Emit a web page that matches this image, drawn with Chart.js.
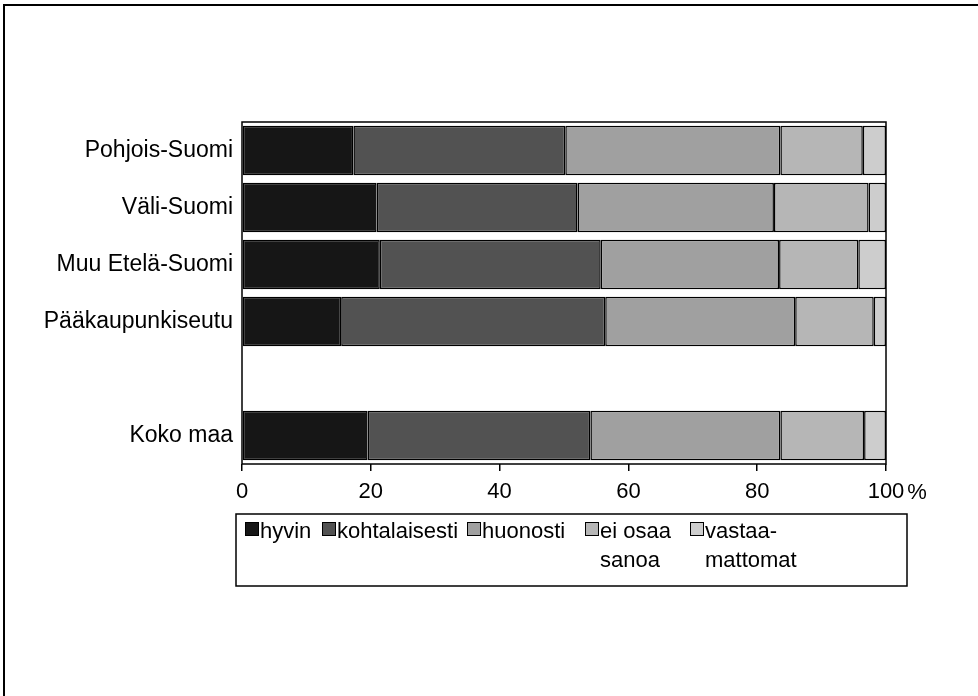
<!DOCTYPE html>
<html>
<head>
<meta charset="utf-8">
<script src="https://cdn.jsdelivr.net/npm/chart.js@4"></script>
<style>
  html, body { margin: 0; padding: 0; background: #fff; }
  #wrap { width: 978px; height: 696px; position: relative; }
</style>
</head>
<body>
<div id="wrap"><canvas id="regionChart" width="978" height="696"></canvas></div>
<script>
// regions (empty slot separates the whole country bar)
const regions = ['Pohjois-Suomi', 'Väli-Suomi', 'Muu Etelä-Suomi', 'Pääkaupunkiseutu', '', 'Koko maa'];

// shares in %, one array per answer
const hyvin          = [17.3, 20.9, 21.4, 15.4, null, 19.5];
const kohtalaisesti  = [32.9, 31.2, 34.3, 41.0, null, 34.6];
const huonosti       = [33.4, 30.5, 27.7, 29.5, null, 29.5];
const eiOsaaSanoa    = [12.8, 14.7, 12.3, 12.2, null, 13.0];
const vastaamattomat = [3.6, 2.7, 4.3, 1.9, null, 3.4];

const seriesNames = ['hyvin', 'kohtalaisesti', 'huonosti', 'ei osaa sanoa', 'vastaamattomat'];
const legendLines = [['hyvin'], ['kohtalaisesti'], ['huonosti'], ['ei osaa', 'sanoa'], ['vastaa-', 'mattomat']];
const xTicks = [0, 20, 40, 60, 80, 100];

const fills = ['#161616', '#525252', '#a0a0a0', '#b6b6b6', '#cdcdcd'];
const FONT = '"Liberation Sans", Arial, Helvetica, sans-serif';
const legendX = [245, 322, 467, 585, 690]; // swatch left edges in the legend box

const seriesData = [hyvin, kohtalaisesti, huonosti, eiOsaaSanoa, vastaamattomat];

// frame, plot box, legend and the % sign
const decorations = {
  id: 'decorations',
  afterDraw(chart) {
    const ctx = chart.ctx;
    const a = chart.chartArea;
    ctx.save();
    ctx.strokeStyle = '#000';

    // outer frame (left and top only, like the scan)
    ctx.lineWidth = 2;
    ctx.beginPath();
    ctx.moveTo(4, 696);
    ctx.lineTo(4, 5);
    ctx.lineTo(978, 5);
    ctx.stroke();

    // plot box
    ctx.lineWidth = 1.5;
    ctx.strokeRect(a.left, a.top, a.right - a.left, a.bottom - a.top);

    // % after the last tick
    const xs = chart.scales.x;
    ctx.fillStyle = '#000';
    ctx.font = '22px ' + FONT;
    ctx.textBaseline = 'middle';
    ctx.textAlign = 'left';
    const w100 = ctx.measureText('100').width;
    ctx.fillText('%', xs.getPixelForValue(100) + w100 / 2 + 3, 493);

    // legend box
    const box = { x: 236, y: 514, w: 671, h: 72 };
    ctx.lineWidth = 1.5;
    ctx.strokeRect(box.x, box.y, box.w, box.h);

    const sw = 14;
    ctx.font = '22px ' + FONT;
    chart.data.datasets.forEach((ds, i) => {
      const x = legendX[i];
      ctx.fillStyle = ds.backgroundColor;
      ctx.fillRect(x, 522, sw, sw);
      ctx.lineWidth = 1;
      ctx.strokeRect(x + 0.5, 522.5, sw - 1, sw - 1);
      ctx.fillStyle = '#000';
      ctx.textBaseline = 'alphabetic';
      legendLines[i].forEach((t, j) => {
        ctx.fillText(t, x + sw + 1, 538 + j * 29);
      });
    });
    ctx.restore();
  }
};

new Chart(document.getElementById('regionChart'), {
  type: 'bar',
  data: {
    labels: regions,
    datasets: seriesData.map((d, i) => ({
      label: seriesNames[i],
      data: d,
      backgroundColor: fills[i],
      borderColor: '#000',
      borderWidth: 1.5,
      borderSkipped: false,
      categoryPercentage: 0.87,
      barPercentage: 1
    }))
  },
  options: {
    indexAxis: 'y',
    responsive: false,
    animation: false,
    layout: { padding: { left: 0, right: 92, top: 122, bottom: 0 } },
    plugins: {
      legend: { display: false },
      tooltip: { enabled: false }
    },
    scales: {
      x: {
        stacked: true,
        min: 0,
        max: 100,
        afterBuildTicks: s => { s.ticks = xTicks.map(v => ({ value: v })); },
        afterFit: s => { s.height = 232; },
        grid: { drawOnChartArea: false, drawTicks: true, tickLength: 7, color: '#000', lineWidth: 1.5 },
        border: { display: false },
        ticks: {
          color: '#000',
          padding: 8,
          maxRotation: 0,
          font: { family: FONT, size: 22 }
        }
      },
      y: {
        stacked: true,
        afterFit: s => { s.width = 242; },
        grid: { display: false, drawTicks: false },
        border: { display: false },
        ticks: {
          color: '#000',
          padding: 9,
          font: { family: FONT, size: 23 }
        }
      }
    }
  },
  plugins: [decorations]
});
</script>
</body>
</html>
